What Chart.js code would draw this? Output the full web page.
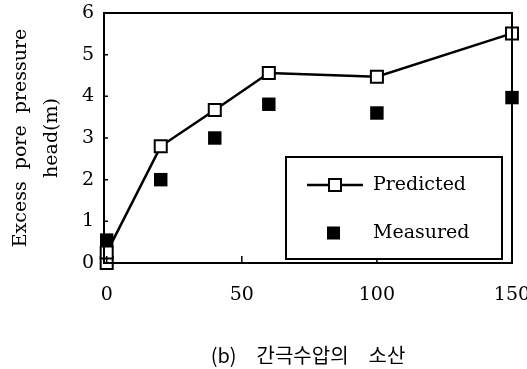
<!DOCTYPE html>
<html>
<head>
<meta charset="utf-8">
<script src="https://cdn.jsdelivr.net/npm/chart.js@4.4.1/dist/chart.umd.min.js"></script>
<style>
  html, body { margin: 0; padding: 0; background: #fff; }
  #wrap { width: 527px; height: 369px; }
</style>
</head>
<body>
<div id="wrap"><canvas id="pressureChart" width="527" height="369"></canvas></div>
<script>
// elapsed time vs. excess pore pressure head
var predictedX = [0, 0, 20, 40, 60, 100, 150];
var predictedY = [0, 0.25, 2.8, 3.67, 4.56, 4.47, 5.51];
var measuredX = [0, 20, 40, 60, 100, 150];
var measuredY = [0.55, 2.0, 3.0, 3.81, 3.6, 3.97];
var xTickValues = [0, 50, 100, 150];
var yTickValues = [0, 1, 2, 3, 4, 5, 6];
var seriesNames = ['Predicted', 'Measured'];

var serif = '"DejaVu Serif", "Liberation Serif", serif';

function toPoints(xs, ys) {
    return xs.map(function(x, i) { return { x: x, y: ys[i] }; });
}

// frame, inner tick marks and the boxed legend
var framePlugin = {
    id: 'frame',
    afterDatasetsDraw: function(chart) {
        var ctx = chart.ctx;
        var a = chart.chartArea;
        var xs = chart.scales.x, ys = chart.scales.y;
        ctx.save();
        ctx.strokeStyle = '#000';
        ctx.lineWidth = 2;
        ctx.strokeRect(a.left, a.top, a.right - a.left, a.bottom - a.top);

        ctx.lineWidth = 1.5;
        ctx.beginPath();
        yTickValues.forEach(function(v) {
            var py = ys.getPixelForValue(v);
            ctx.moveTo(a.left, py);
            ctx.lineTo(a.left + 4, py);
        });
        xTickValues.forEach(function(v) {
            var px = xs.getPixelForValue(v);
            ctx.moveTo(px, a.bottom);
            ctx.lineTo(px, a.bottom - 7);
        });
        ctx.stroke();

        // legend box
        var bx = 286, by = 157, bw = 216, bh = 102;
        ctx.fillStyle = '#fff';
        ctx.fillRect(bx, by, bw, bh);
        ctx.lineWidth = 2;
        ctx.strokeRect(bx, by, bw, bh);

        var pred = chart.data.datasets[1];
        var meas = chart.data.datasets[0];
        var rowY = [185, 233];

        ctx.lineWidth = pred.borderWidth;
        ctx.beginPath();
        ctx.moveTo(307, rowY[0]);
        ctx.lineTo(363, rowY[0]);
        ctx.stroke();
        ctx.fillStyle = '#fff';
        ctx.fillRect(329, rowY[0] - 6, 12, 12);
        ctx.lineWidth = 2;
        ctx.strokeRect(329, rowY[0] - 6, 12, 12);

        ctx.fillStyle = '#000';
        ctx.fillRect(327, rowY[1] - 6.5, 13, 13);

        ctx.font = '19px ' + serif;
        ctx.textBaseline = 'middle';
        ctx.textAlign = 'left';
        ctx.fillText(pred.label, 373, rowY[0]);
        ctx.fillText(meas.label, 373, rowY[1]);
        ctx.restore();
    }
};

var ctx = document.getElementById('pressureChart').getContext('2d');

var myChart = new Chart(ctx, {
    type: 'scatter',
    data: {
        datasets: [{
            label: seriesNames[1],
            data: toPoints(measuredX, measuredY),
            showLine: false,
            pointStyle: 'rect',
            pointRadius: 9.5,
            backgroundColor: '#000',
            borderColor: '#000',
            borderWidth: 0,
            order: 0,
            clip: false
        }, {
            label: seriesNames[0],
            data: toPoints(predictedX, predictedY),
            showLine: true,
            borderColor: '#000',
            borderWidth: 2.5,
            pointStyle: 'rect',
            pointRadius: 8.5,
            pointBackgroundColor: '#fff',
            pointBorderColor: '#000',
            pointBorderWidth: 2,
            order: 1,
            clip: false
        }]
    },
    options: {
        responsive: false,
        animation: false,
        events: [],
        layout: { padding: { left: 0, right: 15, top: 13, bottom: 0 } },
        plugins: {
            legend: { display: false },
            tooltip: { enabled: false }
        },
        scales: {
            x: {
                type: 'linear',
                min: -1,
                max: 150,
                grid: { display: false, drawTicks: false },
                border: { display: false },
                afterBuildTicks: function(scale) {
                    scale.ticks = xTickValues.map(function(v) { return { value: v }; });
                },
                afterFit: function(scale) {
                    scale.height = 106;
                    scale.paddingLeft = 0;
                    scale.paddingRight = 0;
                },
                ticks: {
                    color: '#000',
                    padding: 21,
                    maxRotation: 0,
                    font: { family: serif, size: 19 }
                },
                title: {
                    display: true,
                    text: '(b)\u3000간극수압의\u3000소산',
                    color: '#000',
                    padding: { top: 0, bottom: 2 },
                    font: { family: '"Noto Sans CJK KR", sans-serif', size: 20, lineHeight: 1.2 }
                }
            },
            y: {
                min: 0,
                max: 6,
                grid: { display: false, drawTicks: false },
                border: { display: false },
                afterBuildTicks: function(scale) {
                    scale.ticks = yTickValues.map(function(v) { return { value: v }; });
                },
                afterFit: function(scale) {
                    scale.width = 104;
                    scale.paddingTop = 0;
                    scale.paddingBottom = 0;
                },
                ticks: {
                    color: '#000',
                    padding: 10,
                    font: { family: serif, size: 19 }
                },
                title: {
                    display: true,
                    text: ['Excess  pore  pressure', 'head(m)'],
                    color: '#000',
                    padding: { top: 6, bottom: 0 },
                    font: { family: serif, size: 19, lineHeight: 1.6 }
                }
            }
        }
    },
    plugins: [framePlugin]
});
</script>
</body>
</html>
